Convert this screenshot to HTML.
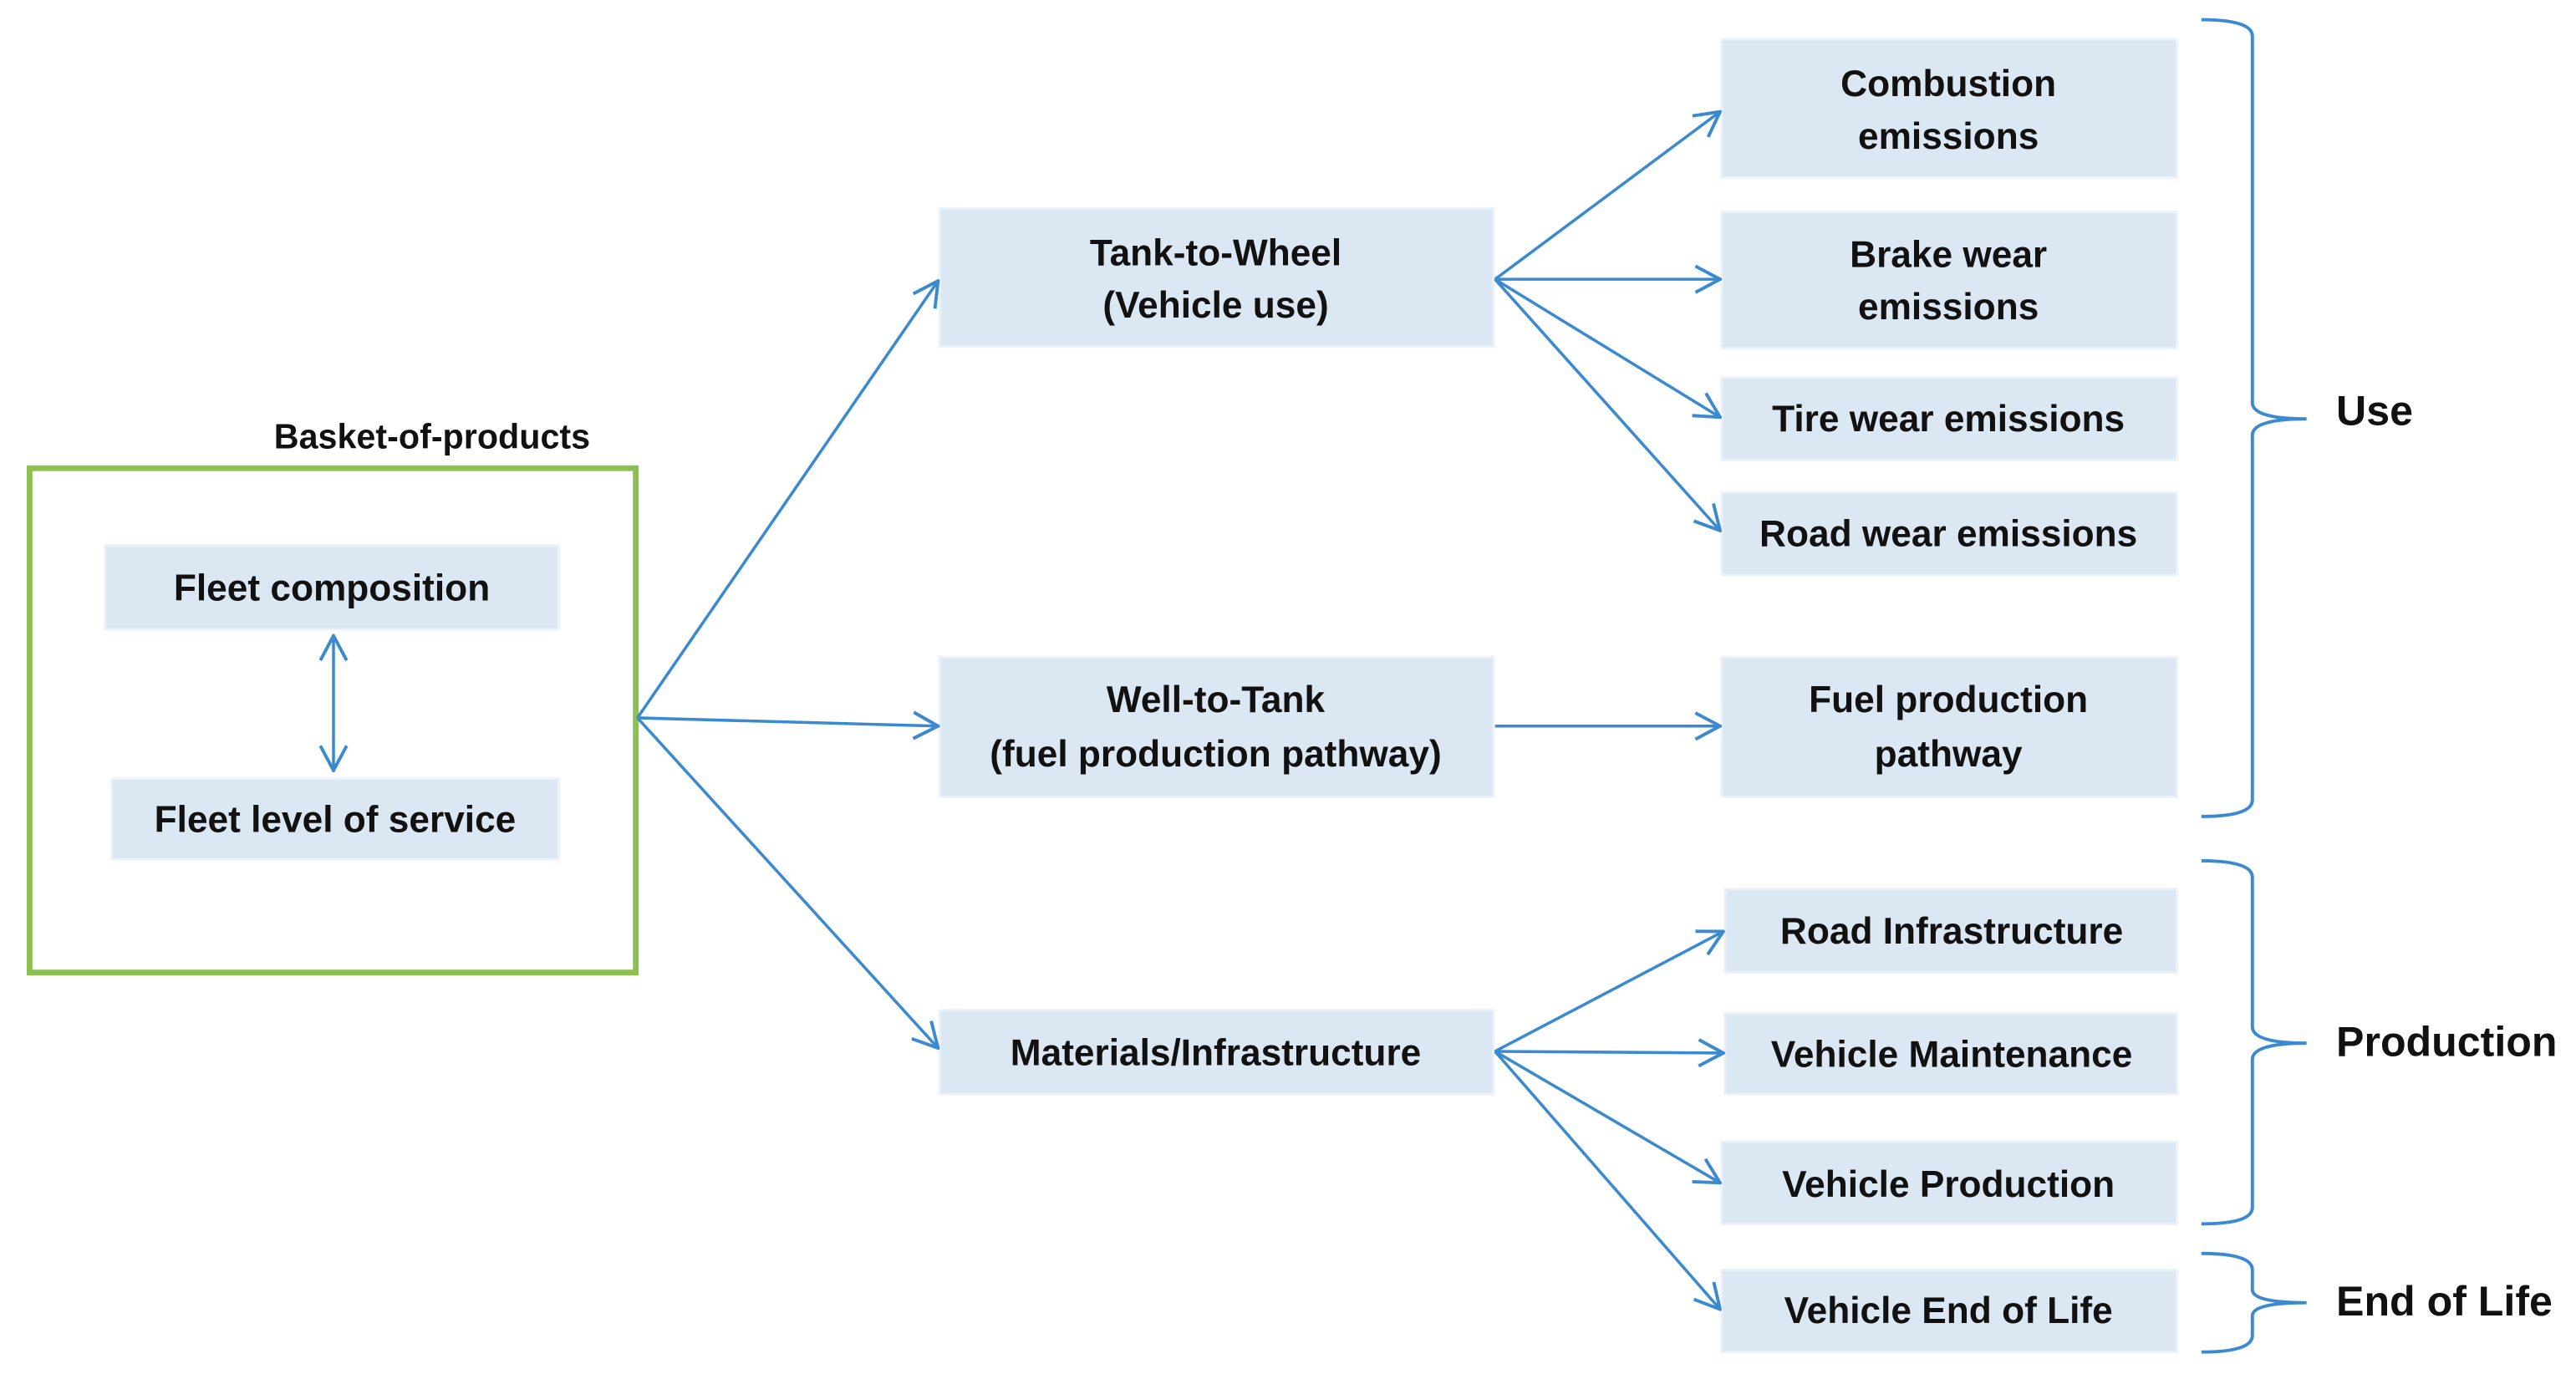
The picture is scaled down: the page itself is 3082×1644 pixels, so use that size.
<!DOCTYPE html>
<html><head><meta charset="utf-8"><style>
html,body{margin:0;padding:0;background:#fff;}
svg{display:block;}
text{font-family:"Liberation Sans",sans-serif;font-weight:bold;fill:#111;text-anchor:middle;dominant-baseline:middle;}
</style></head><body>
<svg width="3082" height="1644" viewBox="0 0 1568 836.4" preserveAspectRatio="none" xmlns="http://www.w3.org/2000/svg">
<defs>
<marker id="a" viewBox="0 0 20 20" refX="19" refY="10" markerWidth="20" markerHeight="20" markerUnits="userSpaceOnUse" orient="auto-start-reverse">
<path d="M4 2 L19 10 L4 18" fill="none" stroke="#3b8ad0" stroke-width="2"/>
</marker>
</defs>
<rect x="18" y="285" width="369" height="307" fill="none" stroke="#8cc152" stroke-width="3.5"/>
<text x="263" y="267.5" font-size="21">Basket-of-products</text>
<g fill="#dbe7f3" stroke="#eaf1f9" stroke-width="1.5">
<rect x="64" y="332" width="276" height="51"/>
<rect x="68" y="474" width="272" height="49"/>
<rect x="572" y="127" width="337" height="84"/>
<rect x="572" y="400" width="337" height="85"/>
<rect x="572" y="615" width="337" height="51"/>
<rect x="1048" y="24" width="277" height="84"/>
<rect x="1048" y="129" width="277" height="83"/>
<rect x="1048" y="230" width="277" height="50"/>
<rect x="1048" y="300" width="277" height="50"/>
<rect x="1048" y="400" width="277" height="85"/>
<rect x="1050" y="541" width="275" height="51"/>
<rect x="1050" y="617" width="275" height="49"/>
<rect x="1048" y="695" width="277" height="50"/>
<rect x="1048" y="773" width="277" height="50"/>
</g>
<g font-size="22.5">
<text x="202" y="359.5">Fleet composition</text>
<text x="204" y="500.5">Fleet level of service</text>
<text x="740" y="155.5">Tank-to-Wheel</text>
<text x="740" y="187.5">(Vehicle use)</text>
<text x="740" y="427.5">Well-to-Tank</text>
<text x="740" y="460.5">(fuel production pathway)</text>
<text x="740" y="642.5">Materials/Infrastructure</text>
<text x="1186" y="52.5">Combustion</text>
<text x="1186" y="84.5">emissions</text>
<text x="1186" y="156.5">Brake wear</text>
<text x="1186" y="188.5">emissions</text>
<text x="1186" y="256.5">Tire wear emissions</text>
<text x="1186" y="326.5">Road wear emissions</text>
<text x="1186" y="427.5">Fuel production</text>
<text x="1186" y="460.5">pathway</text>
<text x="1188" y="568.5">Road Infrastructure</text>
<text x="1188" y="643.5">Vehicle Maintenance</text>
<text x="1186" y="722.5">Vehicle Production</text>
<text x="1186" y="799.5">Vehicle End of Life</text>
</g>
<g font-size="25.5">
<text x="1422" y="252" style="text-anchor:start">Use</text>
<text x="1422" y="636" style="text-anchor:start">Production</text>
<text x="1422" y="794" style="text-anchor:start">End of Life</text>
</g>
<g stroke="#3b8ad0" stroke-width="1.8" fill="none" marker-end="url(#a)">
<line x1="203" y1="469" x2="203" y2="387" marker-start="url(#a)"/>
<line x1="388" y1="437" x2="571" y2="171"/>
<line x1="388" y1="437" x2="571" y2="442"/>
<line x1="388" y1="437" x2="571" y2="638"/>
<line x1="910" y1="170" x2="1047" y2="68"/>
<line x1="910" y1="170" x2="1047" y2="170"/>
<line x1="910" y1="170" x2="1047" y2="254"/>
<line x1="910" y1="170" x2="1047" y2="323"/>
<line x1="910" y1="442" x2="1047" y2="442"/>
<line x1="910" y1="640" x2="1049" y2="567"/>
<line x1="910" y1="640" x2="1049" y2="641"/>
<line x1="910" y1="640" x2="1047" y2="720"/>
<line x1="910" y1="640" x2="1047" y2="797"/>
</g>
<g stroke="#3b8ad0" stroke-width="2" fill="none">
<path d="M1340 12 Q1371 12 1371 22 L1371 245 Q1371 255 1404 255 Q1371 255 1371 265 L1371 487 Q1371 497 1340 497"/>
<path d="M1340 524 Q1371 524 1371 534 L1371 625 Q1371 635 1404 635 Q1371 635 1371 645 L1371 735 Q1371 745 1340 745"/>
<path d="M1340 763 Q1371 763 1371 773 L1371 785 Q1371 793 1404 793 Q1371 793 1371 801 L1371 813 Q1371 823 1340 823"/>
</g>
</svg>
</body></html>
